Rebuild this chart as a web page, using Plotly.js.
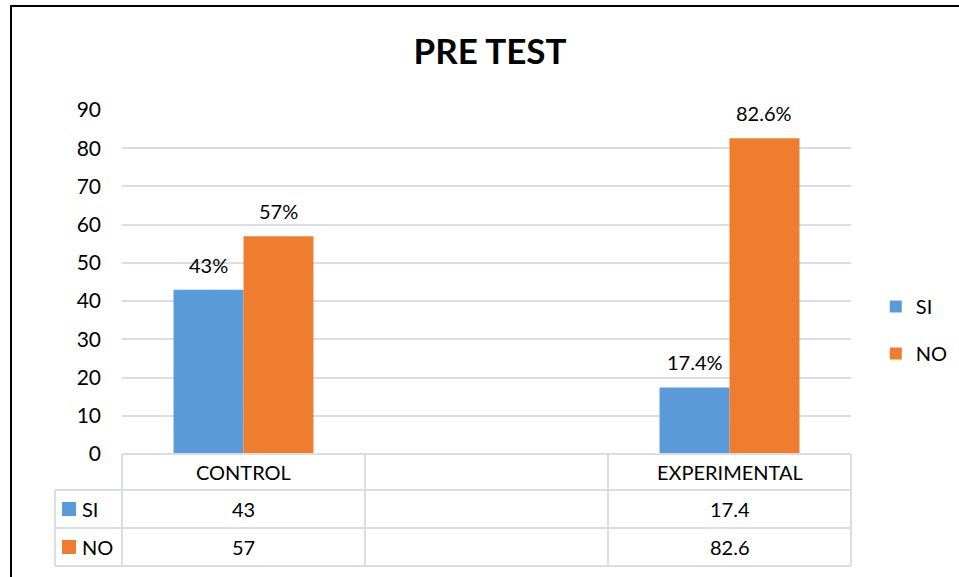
<!DOCTYPE html>
<html>
<head>
<meta charset="utf-8">
<script src="https://cdn.plot.ly/plotly-3.0.1.min.js"></script>
<style>
html,body{margin:0;padding:0;background:#fff;}
#wrap{position:relative;width:959px;height:577px;}
#chart{position:absolute;left:0;top:0;width:959px;height:577px;}
#frame{position:absolute;left:10px;top:5px;width:960px;height:600px;border-left:2px solid #000;border-top:2px solid #000;pointer-events:none;}
</style>
</head>
<body>
<div id="wrap"><div id="chart"></div><div id="frame"></div></div>
<script>
// ---- data ----
var categories = ["CONTROL", "", "EXPERIMENTAL"];
var seriesNames = ["SI", "NO"];
var siValues = [43, null, 17.4];
var noValues = [57, null, 82.6];
var siLabels = ["43%", "", "17.4%"];
var noLabels = ["57%", "", "82.6%"];
var tableSI = ["43", "", "17.4"];
var tableNO = ["57", "", "82.6"];
var yTicks = [0, 10, 20, 30, 40, 50, 60, 70, 80, 90];

var colors = {SI: "#5a9ad8", NO: "#ef7d2f"};
var font = "Lato, 'Open Sans', 'Liberation Sans', sans-serif";
var xIdx = categories.map(function(_, i){ return i; });

var traces = [
  {type: "bar", name: seriesNames[0], x: xIdx, y: siValues, marker: {color: colors.SI},
   legendgroup: "a", hoverinfo: "none"},
  {type: "bar", name: seriesNames[1], x: xIdx, y: noValues, marker: {color: colors.NO},
   legendgroup: "b", hoverinfo: "none"}
];

// table geometry (paper coords)
var plotL = 122, plotR = 851, plotT = 110, plotB = 454;
function px(xp){ return (xp - plotL) / (plotR - plotL); }
function py(yp){ return (plotB - yp) / (plotB - plotT); }
var gridC = "#dadde3";
var shapes = [];
function line(x0, y0, x1, y1){
  shapes.push({type: "line", xref: "paper", yref: "paper", x0: px(x0), y0: py(y0), x1: px(x1), y1: py(y1),
    line: {color: gridC, width: 2}, layer: "above"});
}
line(122, 454, 851, 454);
line(55, 490, 851, 490);
line(55, 528, 851, 528);
line(55, 566, 851, 566);
line(55, 490, 55, 566);
line(122, 454, 122, 566);
line(365, 454, 365, 566);
line(608, 454, 608, 566);
line(851, 454, 851, 566);
// legend keys in table
function key(y0, c){
  shapes.push({type: "rect", xref: "paper", yref: "paper", x0: px(62), x1: px(76), y0: py(y0), y1: py(y0 + 14),
    line: {width: 0}, fillcolor: c});
}
key(502, colors.SI);
key(540, colors.NO);

var tf = {family: font, size: 20, color: "#000"};
var annotations = [];
// data labels above bars
xIdx.forEach(function(i){
  if (siValues[i] !== null) annotations.push({x: i - 0.142, y: siValues[i], xref: "x", yref: "y", text: siLabels[i],
    showarrow: false, xanchor: "center", yanchor: "bottom", yshift: 11, font: tf});
  if (noValues[i] !== null) annotations.push({x: i + 0.142, y: noValues[i], xref: "x", yref: "y", text: noLabels[i],
    showarrow: false, xanchor: "center", yanchor: "bottom", yshift: 11, font: tf});
  annotations.push({x: i, y: py(472), xref: "x", yref: "paper", text: categories[i], showarrow: false,
    xanchor: "center", yanchor: "middle", font: tf});
  annotations.push({x: i, y: py(509), xref: "x", yref: "paper", text: tableSI[i], showarrow: false,
    xanchor: "center", yanchor: "middle", font: tf});
  annotations.push({x: i, y: py(547), xref: "x", yref: "paper", text: tableNO[i], showarrow: false,
    xanchor: "center", yanchor: "middle", font: tf});
});
annotations.push({x: px(80), y: py(509), xref: "paper", yref: "paper", xanchor: "left", yanchor: "middle",
  text: seriesNames[0], showarrow: false, font: tf});
annotations.push({x: px(80), y: py(547), xref: "paper", yref: "paper", xanchor: "left", yanchor: "middle",
  text: seriesNames[1], showarrow: false, font: tf});

var layout = {
  width: 959, height: 577,
  margin: {l: plotL, r: 959 - plotR, t: plotT, b: 577 - plotB, pad: 0, autoexpand: false},
  paper_bgcolor: "#fff", plot_bgcolor: "#fff",
  title: {text: "<b>PRE TEST</b>", x: 0.511, xanchor: "center", y: 0.91, yanchor: "middle",
    font: {family: font, size: 35, color: "#000"}},
  barmode: "group", bargap: 0.424, bargroupgap: 0,
  xaxis: {range: [-0.5, 2.5], showticklabels: false, showgrid: false, zeroline: false, fixedrange: true, showline: false},
  yaxis: {range: [0, 90], tickvals: yTicks, ticktext: yTicks.map(String), showgrid: true, gridcolor: gridC, gridwidth: 2,
    zeroline: false, ticks: "", ticklabelstandoff: 20, tickfont: {family: font, size: 21, color: "#000"}, fixedrange: true},
  showlegend: true,
  legend: {x: 1.034, xanchor: "left", y: py(330), yanchor: "middle", traceorder: "grouped", tracegroupgap: 18,
    font: tf, itemwidth: 30, bgcolor: "rgba(0,0,0,0)"},
  shapes: shapes,
  annotations: annotations
};

Plotly.newPlot("chart", traces, layout, {displayModeBar: false, staticPlot: true});
</script>
</body>
</html>
